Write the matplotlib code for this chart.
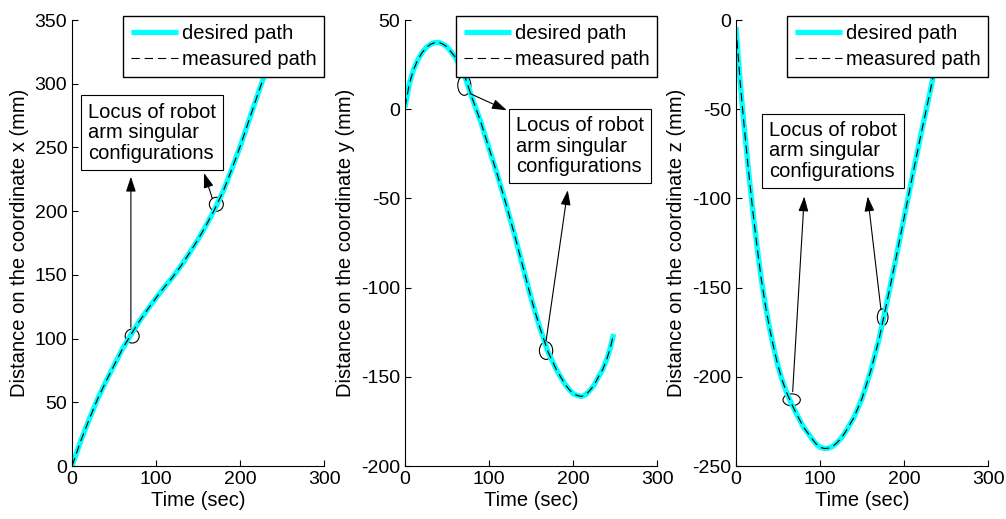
# three panels: desired vs measured path along x, y, z
import matplotlib.pyplot as plt
from matplotlib.patches import Ellipse

plt.rcParams['font.family'] = ['Liberation Sans', 'DejaVu Sans']
plt.rcParams['lines.scale_dashes'] = False
plt.rcParams['axes.unicode_minus'] = False

# values (time in sec, distance in mm)
t_x = [0, 10, 20, 30, 40, 50, 60, 70, 80, 90, 100, 110, 120, 130, 140, 150,
       160, 170, 180, 190, 200, 210, 220, 230, 240, 250]
path_x = [0, 19, 36, 52, 66, 79, 92, 103, 113.5, 123, 132, 140.5, 148.5, 157.5, 167.5, 178,
          189.5, 202, 216, 233, 251, 270.5, 290, 309, 328, 347]

t_y = [0, 5, 10, 15, 20, 25, 30, 35, 40, 45, 50, 60, 70, 80, 90, 100, 110, 120, 130, 140, 150,
       160, 170, 180, 190, 195, 200, 205, 210, 215, 220, 225, 230, 235, 240, 244, 248]
path_y = [1, 14, 22, 27.5, 31.5, 34.5, 36.3, 37.3, 37.5, 36.5, 35, 29, 20, 6, -7, -22, -37, -53, -70, -88, -106,
          -122, -136, -146, -154, -157, -159.5, -160.5, -161, -160, -157.5, -154.5, -150, -146, -140, -134, -126]

t_z = [0, 5, 10, 15, 20, 25, 30, 35, 40, 45, 50, 55, 60, 65, 70, 80, 90, 95, 100, 105, 110,
       115, 120, 125, 130, 140, 150, 160, 170, 180, 190, 200, 210, 220, 230, 240, 248]
path_z = [-4, -35, -61, -85, -107, -127, -145, -160, -173, -184, -194, -202, -208.5, -214, -219, -228,
          -234.5, -237.5, -239.5, -240.2, -240, -239, -237, -234.5, -231, -223, -212, -197, -179, -157,
          -134, -110.5, -87, -64, -42, -19, -1]

labels = ['Distance on the coordinate x (mm)', 'Distance on the coordinate y (mm)',
          'Distance on the coordinate z (mm)']
ylims = [(0, 350), (-200, 50), (-250, 0)]
yticks = [range(0, 351, 50), range(-200, 51, 50), range(-250, 1, 50)]
lefts = [0.0716, 0.4026, 0.7316]

note = 'Locus of robot\narm singular\nconfigurations'
# text position, circles (center, w, h), arrows (tail, tip)
notes = [
    dict(text=(19, 261.7),
         circles=[((71.5, 102), 16.6, 11), ((171.6, 205.4), 16.6, 11)],
         arrows=[((70, 108.8), (70, 227)), ((166.9, 209.9), (156.9, 230))]),
    dict(text=(132, -20.8),
         circles=[((70.5, 13.4), 15.5, 11.2), ((167.7, -135.3), 15.8, 9.9)],
         arrows=[((77.3, 8.8), (121, -0.6)), ((167.7, -130), (193.5, -45.4))]),
    dict(text=(39.6, -73.3),
         circles=[((66.2, -212.9), 20.6, 6.7), ((174.4, -166.6), 12.7, 9.4)],
         arrows=[((67.4, -208.3), (81.2, -98.9)), ((172.4, -162.4), (156.6, -98.9))]),
]

fig = plt.figure(figsize=(10.06, 5.19), dpi=100)

for i, (t, p) in enumerate([(t_x, path_x), (t_y, path_y), (t_z, path_z)]):
    ax = fig.add_axes([lefts[i], 0.1021, 0.2508, 0.8593])
    ax.plot(t, p, c='cyan', lw=3.8, label='desired path', solid_capstyle='butt')
    ax.plot(t, p, c='k', lw=0.8, dashes=(6, 3.5), label='measured path')

    ax.set_xlim(0, 300)
    ax.set_ylim(*ylims[i])
    ax.set_xticks([0, 100, 200, 300])
    ax.set_yticks(list(yticks[i]))
    ax.spines['top'].set_visible(False)
    ax.spines['right'].set_visible(False)
    ax.tick_params(direction='in', length=4, labelsize=14, width=0.8)
    ax.set_xlabel('Time (sec)', fontsize=14.5, labelpad=2)
    ax.set_ylabel(labels[i], fontsize=14.5, labelpad=4)

    n = notes[i]
    ax.text(n['text'][0], n['text'][1], note, fontsize=14.5, va='center', ha='left',
            linespacing=1.1,
            bbox=dict(boxstyle='square,pad=0.35', fc='white', ec='k', lw=0.8))
    for c, w, h in n['circles']:
        ax.add_patch(Ellipse(c, w, h, fill=False, ec='k', lw=0.8))
    for tail, tip in n['arrows']:
        ax.annotate('', xy=tip, xytext=tail,
                    arrowprops=dict(arrowstyle='-|>,head_length=0.9,head_width=0.3',
                                    color='k', lw=0.8, shrinkA=0, shrinkB=0))

    leg = ax.legend(loc='upper right', bbox_to_anchor=(1.0, 1.01), fontsize=14.5,
                    borderaxespad=0, fancybox=False, handlelength=2.3,
                    handletextpad=0.2, labelspacing=0.35, borderpad=0.4)
    leg.get_frame().set_edgecolor('k')
    leg.get_frame().set_linewidth(1.0)
    leg.get_frame().set_alpha(1)

plt.savefig('out.png', dpi=100)
